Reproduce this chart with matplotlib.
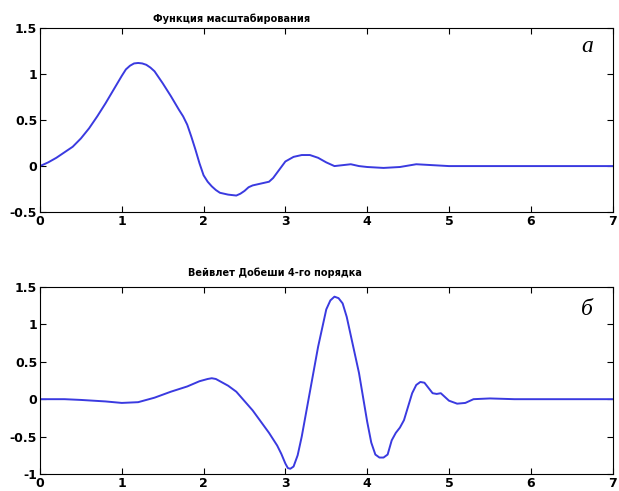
import matplotlib
matplotlib.use("Agg")
import matplotlib.pyplot as plt

# функция масштабирования
x_phi = [0, 0.1, 0.2, 0.3, 0.4, 0.5, 0.6, 0.7, 0.8, 0.9, 1.0, 1.05, 1.1, 1.15, 1.2, 1.25,
         1.3, 1.35, 1.4, 1.5, 1.6, 1.7, 1.75, 1.8, 1.85, 1.9, 1.95, 2.0, 2.05, 2.1, 2.15,
         2.2, 2.3, 2.4, 2.45, 2.5, 2.55, 2.6, 2.7, 2.8, 2.85, 2.9, 2.95, 3.0, 3.1, 3.2,
         3.3, 3.4, 3.5, 3.6, 3.7, 3.8, 3.9, 4.0, 4.2, 4.4, 4.6, 4.8, 5.0, 7.0]
y_phi = [0, 0.04, 0.09, 0.15, 0.21, 0.3, 0.41, 0.54, 0.68, 0.83, 0.98, 1.05, 1.09, 1.115, 1.12, 1.115,
         1.1, 1.07, 1.03, 0.9, 0.76, 0.61, 0.54, 0.45, 0.32, 0.18, 0.03, -0.1, -0.17, -0.22, -0.26,
         -0.29, -0.31, -0.32, -0.3, -0.27, -0.23, -0.21, -0.19, -0.17, -0.13, -0.07, -0.01, 0.05, 0.1, 0.12,
         0.12, 0.09, 0.04, 0.0, 0.01, 0.02, 0.0, -0.01, -0.02, -0.01, 0.02, 0.01, 0.0, 0.0]

# вейвлет
x_psi = [0, 0.3, 0.5, 0.8, 1.0, 1.2, 1.4, 1.6, 1.8, 1.95, 2.05, 2.1, 2.15, 2.2, 2.3, 2.4,
         2.6, 2.8, 2.9, 2.95, 3.0, 3.03, 3.06, 3.1, 3.15, 3.2, 3.3, 3.4, 3.5, 3.55, 3.6,
         3.65, 3.7, 3.75, 3.8, 3.9, 4.0, 4.05, 4.1, 4.15, 4.2, 4.25, 4.3, 4.35, 4.4, 4.45,
         4.5, 4.55, 4.6, 4.65, 4.7, 4.75, 4.8, 4.85, 4.9, 5.0, 5.1, 5.2, 5.3, 5.5, 5.8, 7.0]
y_psi = [0, 0.0, -0.01, -0.03, -0.05, -0.04, 0.02, 0.1, 0.17, 0.24, 0.27, 0.28, 0.27, 0.24, 0.18, 0.1,
         -0.15, -0.45, -0.62, -0.73, -0.86, -0.92, -0.93, -0.9, -0.75, -0.5, 0.1, 0.7, 1.2, 1.32, 1.37,
         1.35, 1.28, 1.1, 0.85, 0.35, -0.3, -0.58, -0.74, -0.78, -0.78, -0.74, -0.55, -0.45, -0.38, -0.28,
         -0.1, 0.08, 0.19, 0.23, 0.22, 0.15, 0.08, 0.07, 0.08, -0.02, -0.06, -0.05, 0.0, 0.01, 0.0, 0.0]

fig = plt.figure(figsize=(6.19, 4.91), dpi=100)
ax1 = fig.add_axes([0.0646, 0.568, 0.925, 0.375])
ax2 = fig.add_axes([0.0646, 0.0346, 0.925, 0.381])

ax1.plot(x_phi, y_phi, color="#3a3ae0", lw=1.4)
ax1.set_ylim(-0.5, 1.5)
ax1.set_yticks([-0.5, 0, 0.5, 1, 1.5])
ax1.set_yticklabels(["-0.5", "0", "0.5", "1", "1.5"])
ax1.text(0.335, 1.03, "Функция масштабирования", transform=ax1.transAxes,
         ha="center", fontsize=7, fontweight="bold")
ax1.text(0.955, 0.87, "a", transform=ax1.transAxes, fontsize=17,
         family="Liberation Serif", style="italic", ha="center")

ax2.plot(x_psi, y_psi, color="#3a3ae0", lw=1.4)
ax2.set_ylim(-1, 1.5)
ax2.set_yticks([-1, -0.5, 0, 0.5, 1, 1.5])
ax2.set_yticklabels(["-1", "-0.5", "0", "0.5", "1", "1.5"])
ax2.text(0.41, 1.06, "Вейвлет Добеши 4-го порядка", transform=ax2.transAxes,
         ha="center", fontsize=7, fontweight="bold")
ax2.text(0.955, 0.85, "б", transform=ax2.transAxes, fontsize=17,
         family="Liberation Serif", style="italic", ha="center")

for ax in (ax1, ax2):
    ax.set_xlim(0, 7)
    ax.set_xticks(range(8))
    ax.tick_params(direction="in", top=True, right=True, length=4, labelsize=9, pad=2)
    for lab in ax.get_xticklabels() + ax.get_yticklabels():
        lab.set_fontweight("bold")
    for s in ax.spines.values():
        s.set_linewidth(0.8)

fig.savefig("out.png", dpi=100)
